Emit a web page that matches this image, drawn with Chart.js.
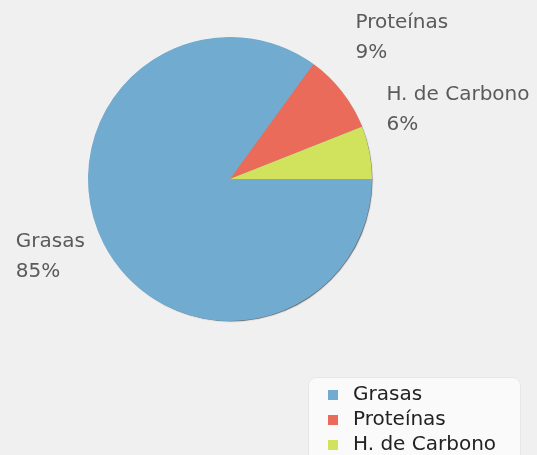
<!DOCTYPE html>
<html>
<head>
<meta charset="utf-8">
<script src="https://cdn.jsdelivr.net/npm/chart.js@4"></script>
<style>
  html, body { margin: 0; padding: 0; background: #f0f0f0; }
  #wrap { width: 537px; height: 455px; }
</style>
</head>
<body>
<div id="wrap"><canvas id="pieChart" width="537" height="455"></canvas></div>
<script>
var categories = ["Grasas", "Proteínas", "H. de Carbono"];
var percentages = [85, 9, 6];
var sliceColors = ["#71abcf", "#eb6b5a", "#d1e25c"];

// label nudges so the stacked labels land like the original
var labelShift = [[-6, 7], [2, -45], [3, -40]];

var sliceLabels = {
  id: "sliceLabels",
  afterDatasetsDraw: function (chart) {
    var ctx = chart.ctx;
    var meta = chart.getDatasetMeta(0);
    ctx.save();
    ctx.font = "20px 'DejaVu Sans'";
    ctx.fillStyle = "#5a5a5a";
    ctx.textBaseline = "middle";
    meta.data.forEach(function (arc, i) {
      var p = arc.getProps(["x", "y", "startAngle", "endAngle", "outerRadius"], true);
      var mid = (p.startAngle + p.endAngle) / 2;
      var r = p.outerRadius * 1.1;
      var ax = p.x + Math.cos(mid) * r + labelShift[i][0];
      var ay = p.y + Math.sin(mid) * r + labelShift[i][1];
      var line1 = categories[i];
      var line2 = percentages[i] + "%";
      var w = Math.max(ctx.measureText(line1).width, ctx.measureText(line2).width);
      var left = Math.cos(mid) < 0 ? ax - w : ax;
      ctx.textAlign = "left";
      ctx.fillText(line1, left, ay - 15);
      ctx.fillText(line2, left, ay + 15);
    });
    ctx.restore();
  }
};

// one soft shadow under the whole pie, drawn before the slices
var pieShadow = {
  id: "pieShadow",
  beforeDatasetsDraw: function (chart) {
    var arc = chart.getDatasetMeta(0).data[0];
    if (!arc) return;
    var p = arc.getProps(["x", "y", "outerRadius"], true);
    var ctx = chart.ctx;
    ctx.save();
    ctx.shadowColor = "rgba(0,0,0,0.6)";
    ctx.shadowBlur = 1;
    ctx.shadowOffsetX = 1;
    ctx.shadowOffsetY = 1;
    ctx.fillStyle = sliceColors[0];
    ctx.beginPath();
    ctx.arc(p.x, p.y, p.outerRadius - 0.5, 0, Math.PI * 2);
    ctx.fill();
    ctx.restore();
  }
};

var boxLegend = {
  id: "boxLegend",
  afterDraw: function (chart) {
    var ctx = chart.ctx;
    var bx = 308, by = 377, bw = 212, bh = 100;
    ctx.save();
    ctx.fillStyle = "#fafafa";
    ctx.strokeStyle = "#e6e6e6";
    ctx.lineWidth = 1;
    ctx.beginPath();
    ctx.roundRect(bx + 0.5, by + 0.5, bw, bh, 8);
    ctx.fill();
    ctx.stroke();
    ctx.font = "20px 'DejaVu Sans'";
    ctx.textBaseline = "middle";
    ctx.textAlign = "left";
    categories.forEach(function (name, i) {
      var cy = by + 18 + i * 25;
      ctx.fillStyle = sliceColors[i];
      ctx.fillRect(bx + 20, cy - 5, 10, 10);
      ctx.fillStyle = "#222222";
      ctx.fillText(name, bx + 45, cy);
    });
    ctx.restore();
  }
};

new Chart("pieChart", {
  type: "pie",
  data: {
    labels: categories,
    datasets: [{
      data: percentages,
      backgroundColor: sliceColors,
      borderWidth: 0,
      hoverOffset: 0
    }]
  },
  options: {
    responsive: false,
    devicePixelRatio: 1,
    animation: false,
    rotation: 90,
    layout: { padding: { left: 88, right: 165, top: 37, bottom: 134 } },
    plugins: {
      legend: { display: false },
      tooltip: { enabled: false }
    },
    events: []
  },
  plugins: [pieShadow, sliceLabels, boxLegend]
});
</script>
</body>
</html>
